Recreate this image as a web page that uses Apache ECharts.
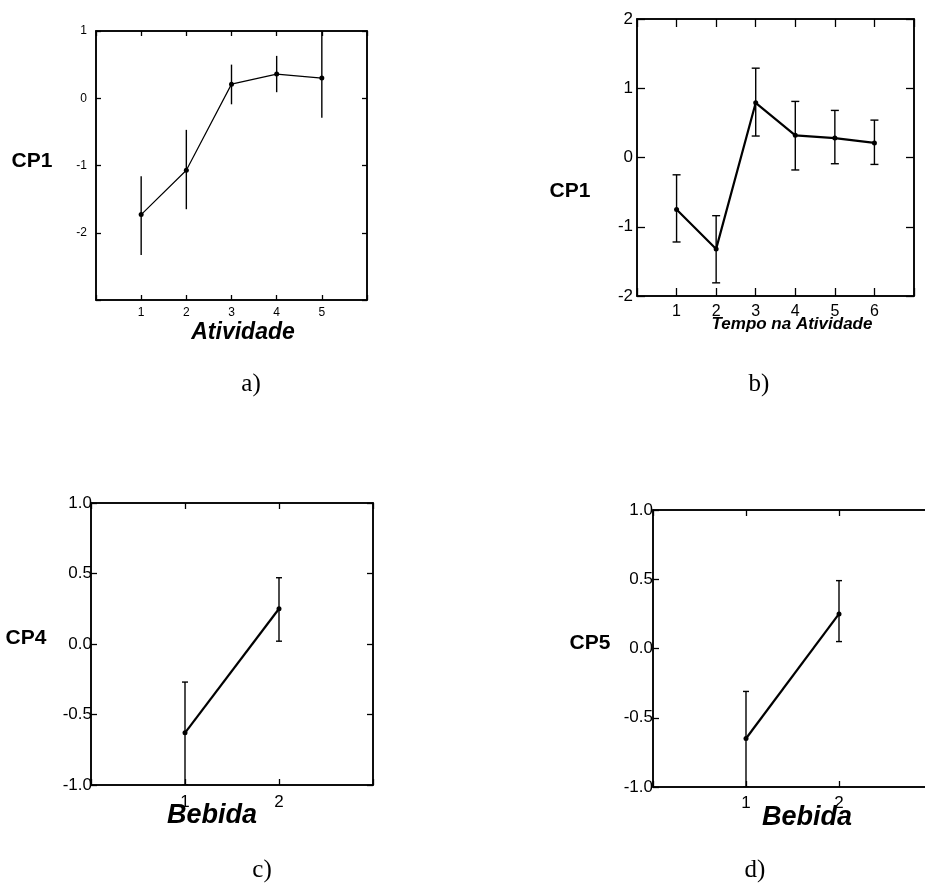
<!DOCTYPE html>
<html>
<head>
<meta charset="utf-8">
<script src="https://cdn.jsdelivr.net/npm/echarts@6/dist/echarts.min.js"></script>
<style>
  html, body { margin: 0; padding: 0; background: #fff; }
  #chart { width: 925px; height: 888px; }
</style>
</head>
<body>
<div id="chart"></div>
<script>
// a) CP1 x Atividade
const aX = [1, 2, 3, 4, 5]
const aMean = [-1.73, -1.07, 0.21, 0.36, 0.30]
const aLow = [-2.33, -1.65, -0.09, 0.09, -0.29]
const aHigh = [-1.16, -0.47, 0.50, 0.63, 1.0]

// b) CP1 x Tempo na Atividade
const bX = [1, 2, 3, 4, 5, 6]
const bMean = [-0.75, -1.32, 0.79, 0.32, 0.28, 0.21]
const bLow = [-1.22, -1.81, 0.31, -0.18, -0.09, -0.10]
const bHigh = [-0.25, -0.84, 1.29, 0.81, 0.68, 0.54]

// c) CP4 x Bebida
const cX = [1, 2]
const cMean = [-0.63, 0.25]
const cLow = [-1.0, 0.02]
const cHigh = [-0.27, 0.47]

// d) CP5 x Bebida
const dX = [1, 2]
const dMean = [-0.65, 0.25]
const dLow = [-1.0, 0.05]
const dHigh = [-0.31, 0.49]

const SANS = 'Liberation Sans, Arial, sans-serif'
const SERIF = 'Liberation Serif, Times New Roman, serif'

const chart = echarts.init(document.getElementById('chart'))

function pairs(xs, ys) {
  return xs.map((x, i) => [x, ys[i]])
}

function bars(xs, lo, hi) {
  return xs.map((x, i) => [x, lo[i], hi[i]])
}

function errorBars(cap) {
  return function (params, api) {
    const x = api.value(0)
    const lo = api.coord([x, api.value(1)])
    const hi = api.coord([x, api.value(2)])
    const style = { stroke: '#000', lineWidth: 1.4 }
    const children = [
      { type: 'line', shape: { x1: lo[0], y1: lo[1], x2: hi[0], y2: hi[1] }, style }
    ]
    if (cap) {
      children.push({ type: 'line', shape: { x1: hi[0] - cap, y1: hi[1], x2: hi[0] + cap, y2: hi[1] }, style })
      children.push({ type: 'line', shape: { x1: lo[0] - cap, y1: lo[1], x2: lo[0] + cap, y2: lo[1] }, style })
    }
    return { type: 'group', children }
  }
}

function onlyIn(list) {
  return v => (list.includes(v) ? String(v) : '')
}

// last panel runs a little past the right edge of the page, as in the scan
const grids = [
  { left: 96, top: 31, width: 271, height: 269 },
  { left: 637, top: 19, width: 277, height: 277 },
  { left: 91, top: 503, width: 282, height: 282 },
  { left: 653, top: 510, width: 279, height: 277 }
].map(g => ({
  ...g, show: true, borderColor: '#000', borderWidth: 1.5,
  backgroundColor: 'transparent', containLabel: false, outerBoundsMode: 'none'
}))

const xCfg = [
  { min: 0, max: 6, fs: 12, margin: 7, tick: 5, labels: aX },
  { min: 0, max: 7, fs: 16, margin: 8, tick: 8, labels: bX },
  { min: 0, max: 3, fs: 17, margin: 9, tick: 6, labels: cX },
  { min: 0, max: 3, fs: 17, margin: 8, tick: 6, labels: dX }
]

const yCfg = [
  { min: -3, max: 1, interval: 1, fs: 12, margin: 9, tick: 5, fmt: v => (v === -3 ? '' : String(v)) },
  { min: -2, max: 2, interval: 1, fs: 17, margin: 4, tick: 8, fmt: v => String(v) },
  { min: -1, max: 1, interval: 0.5, fs: 17, margin: -1, tick: 6, fmt: v => v.toFixed(1) },
  { min: -1, max: 1, interval: 0.5, fs: 17, margin: 0, tick: 6, fmt: v => v.toFixed(1) }
]

const xAxis = []
const yAxis = []
xCfg.forEach((c, i) => {
  const base = {
    type: 'value', gridIndex: i, min: c.min, max: c.max, interval: 1,
    splitLine: { show: false },
    axisLine: { show: true, onZero: false, lineStyle: { color: '#000', width: 1.5 } },
    axisTick: { show: true, inside: true, length: c.tick, lineStyle: { color: '#000', width: 1.3 } }
  }
  xAxis.push({
    ...base, position: 'bottom',
    axisLabel: { color: '#000', fontSize: c.fs, fontFamily: SANS, margin: c.margin, formatter: onlyIn(c.labels) }
  })
  xAxis.push({ ...base, position: 'top', axisLabel: { show: false } })
})
yCfg.forEach((c, i) => {
  const base = {
    type: 'value', gridIndex: i, min: c.min, max: c.max, interval: c.interval,
    splitLine: { show: false },
    axisLine: { show: true, onZero: false, lineStyle: { color: '#000', width: 1.5 } },
    axisTick: { show: true, inside: true, length: c.tick, lineStyle: { color: '#000', width: 1.3 } }
  }
  yAxis.push({
    ...base, position: 'left',
    axisLabel: { color: '#000', fontSize: c.fs, fontFamily: SANS, margin: c.margin, formatter: c.fmt }
  })
  yAxis.push({ ...base, position: 'right', axisLabel: { show: false } })
})

const panels = [
  { x: aX, mean: aMean, lo: aLow, hi: aHigh, lw: 1.2, cap: 0 },
  { x: bX, mean: bMean, lo: bLow, hi: bHigh, lw: 2.2, cap: 4 },
  { x: cX, mean: cMean, lo: cLow, hi: cHigh, lw: 2.2, cap: 3 },
  { x: dX, mean: dMean, lo: dLow, hi: dHigh, lw: 2.2, cap: 3 }
]

const series = []
panels.forEach((p, i) => {
  series.push({
    type: 'custom',
    xAxisIndex: i * 2,
    yAxisIndex: i * 2,
    clip: true,
    renderItem: errorBars(p.cap),
    encode: { x: 0, y: [1, 2] },
    data: bars(p.x, p.lo, p.hi),
    silent: true
  })
  series.push({
    type: 'line',
    xAxisIndex: i * 2,
    yAxisIndex: i * 2,
    data: pairs(p.x, p.mean),
    symbol: 'circle',
    symbolSize: 5,
    itemStyle: { color: '#000' },
    lineStyle: { color: '#000', width: p.lw },
    silent: true
  })
})

function txt(text, x, y, size, opts) {
  return {
    type: 'text', x, y,
    style: Object.assign({
      text, fontSize: size, fontFamily: SANS, fill: '#000',
      align: 'center', verticalAlign: 'middle'
    }, opts || {})
  }
}

const bold = { fontWeight: 'bold' }
const boldItalic = { fontWeight: 'bold', fontStyle: 'italic' }
const serif = { fontFamily: SERIF }

chart.setOption({
  animation: false,
  backgroundColor: '#fff',
  grid: grids,
  xAxis,
  yAxis,
  series,
  graphic: [
    txt('CP1', 32, 161, 21, bold),
    txt('Atividade', 243, 333, 23, boldItalic),
    txt('a)', 251, 384, 25, serif),
    txt('CP1', 570, 191, 21, bold),
    txt('Tempo na Atividade', 792, 324, 17, boldItalic),
    txt('b)', 759, 384, 25, serif),
    txt('CP4', 26, 638, 21, bold),
    txt('Bebida', 212, 816, 27, boldItalic),
    txt('c)', 262, 870, 25, serif),
    txt('CP5', 590, 643, 21, bold),
    txt('Bebida', 807, 818, 27, boldItalic),
    txt('d)', 755, 870, 25, serif)
  ]
})

window.addEventListener('resize', () => chart.resize())
</script>
</body>
</html>
